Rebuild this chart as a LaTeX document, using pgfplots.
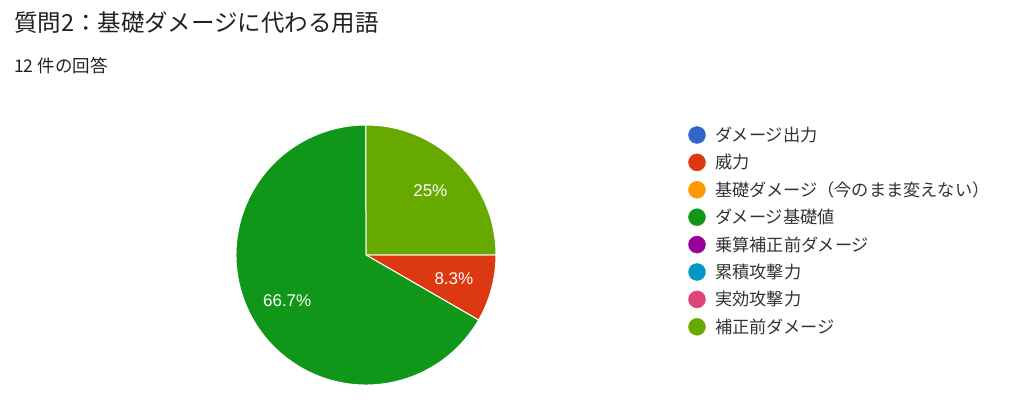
\documentclass[border=0pt]{standalone}
\usepackage{fontspec}
\usepackage{pgfplots}
\usepackage{pgfplotstable}
\pgfplotsset{compat=1.18}
\usetikzlibrary{calc}

\newfontfamily\jp{Noto Sans CJK JP}
\newfontfamily\arial{Liberation Sans}

\definecolor{c0}{HTML}{3366CC}
\definecolor{c1}{HTML}{DC3912}
\definecolor{c2}{HTML}{FF9900}
\definecolor{c3}{HTML}{109618}
\definecolor{c4}{HTML}{990099}
\definecolor{c5}{HTML}{0099C6}
\definecolor{c6}{HTML}{DD4477}
\definecolor{c7}{HTML}{66AA00}
\definecolor{titletext}{HTML}{202124}
\definecolor{legtext}{HTML}{333333}

% answers out of 12; lx/ly = legend position (px from bottom left)
\pgfplotstableread{
count lx ly label
0 697 280.0 ダメージ出力
1 697 252.6 威力
0 697 225.2 基礎ダメージ（今のまま変えない）
8 697 197.8 ダメージ基礎値
0 697 170.4 乗算補正前ダメージ
0 697 143.0 累積攻撃力
0 697 115.6 実効攻撃力
3 697 88.2 補正前ダメージ
}\answers

\begin{document}
\begin{tikzpicture}
\begin{axis}[
    width=1024bp, height=415bp, scale only axis,
    xmin=0, xmax=1024, ymin=0, ymax=415,
    enlargelimits=false, hide axis, clip=false,
    /pgf/number format/assume math mode=true]

    \path (axis cs:0,0) rectangle (axis cs:1024,415);

    % pie, clockwise from 3 o'clock
    \pgfplotsextra{
        \global\def\angstart{0}
        \pgfplotstableforeachcolumnelement{count}\of\answers\as\cnt{%
            \ifdim\cnt pt>0pt
                \pgfmathsetmacro\angend{\angstart-\cnt/12*360}
                \pgfmathsetmacro\angmid{(\angstart+\angend)/2}
                \pgfmathsetmacro\pct{\cnt/12*100}
                \fill[color=c\pgfplotstablerow, draw=white, line width=1bp]
                    (axis cs:366,160) -- ++(\angstart:130bp)
                    arc[start angle=\angstart, end angle=\angend, radius=130bp] -- cycle;
                \node[text=white, inner sep=0pt, font=\arial\fontsize{17bp}{20bp}\selectfont]
                    at ($(axis cs:366,160)+(\angmid:91bp)$)
                    {\pgfmathprintnumber[fixed, precision=1]{\pct}\%};
                \global\let\angstart\angend
            \fi}
    }

    % legend, one entry per row of the table
    \pgfplotsinvokeforeach{0,...,7}{
        \addplot[only marks, mark=*, mark size=8.5bp, color=c#1,
            x filter/.expression={\coordindex==#1 ? x : nan},
            point meta=explicit symbolic,
            nodes near coords,
            every node near coord/.style={anchor=west, xshift=18bp, inner sep=0pt,
                text=legtext, font=\jp\fontsize{17.2bp}{20bp}\selectfont}]
            table[x=lx, y=ly, meta=label] {\answers};
    }

    \node[anchor=base west, inner sep=0pt, text=titletext,
        font=\jp\fontsize{23.5bp}{28bp}\selectfont] at (axis cs:14,383.5)
        {質問2：基礎ダメージに代わる用語};
    \node[anchor=base west, inner sep=0pt, text=titletext,
        font=\jp\fontsize{17.5bp}{20bp}\selectfont] at (axis cs:14,342)
        {12 件の回答};
\end{axis}
\end{tikzpicture}
\end{document}
